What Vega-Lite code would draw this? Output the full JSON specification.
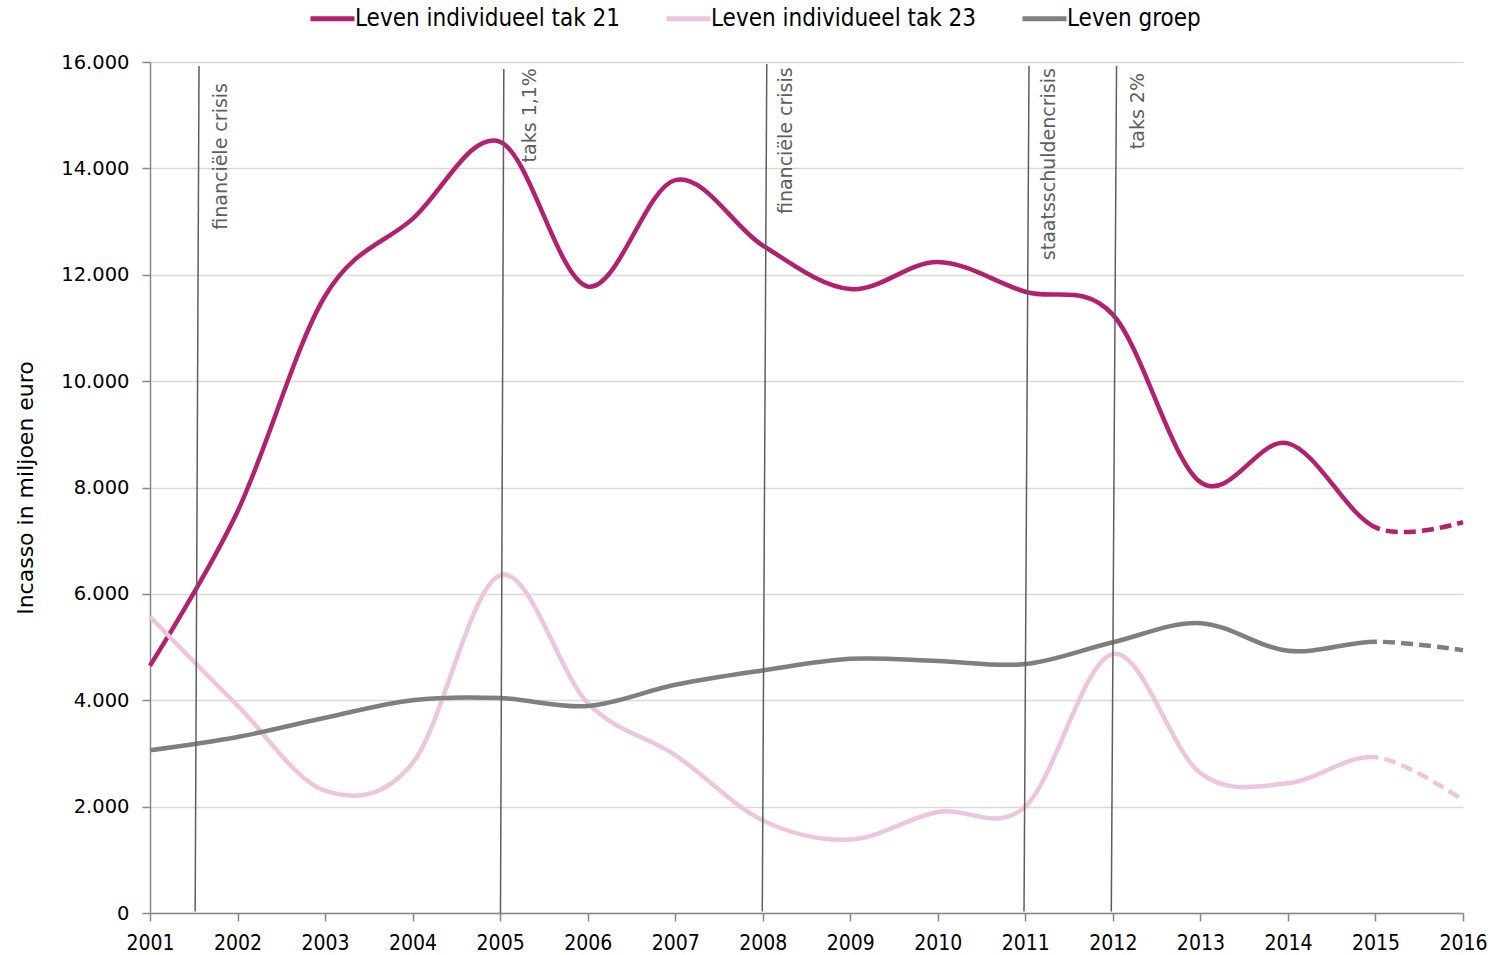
{
  "$schema": "https://vega.github.io/schema/vega-lite/v6.json",
  "autosize": "none",
  "width": 1313,
  "height": 851,
  "padding": {"left": 150, "top": 62, "right": 34, "bottom": 42},
  "background": "white",
  "config": {"view": {"stroke": null}, "font": "DejaVu Sans"},
  "datasets": {
    "series": [
      {"year": 2001, "series": "Leven individueel tak 21", "value": 4650},
      {"year": 2002, "series": "Leven individueel tak 21", "value": 7550},
      {"year": 2003, "series": "Leven individueel tak 21", "value": 11600},
      {"year": 2004, "series": "Leven individueel tak 21", "value": 13050},
      {"year": 2005, "series": "Leven individueel tak 21", "value": 14500},
      {"year": 2006, "series": "Leven individueel tak 21", "value": 11780},
      {"year": 2007, "series": "Leven individueel tak 21", "value": 13780},
      {"year": 2008, "series": "Leven individueel tak 21", "value": 12550},
      {"year": 2009, "series": "Leven individueel tak 21", "value": 11730},
      {"year": 2010, "series": "Leven individueel tak 21", "value": 12240},
      {"year": 2011, "series": "Leven individueel tak 21", "value": 11680},
      {"year": 2012, "series": "Leven individueel tak 21", "value": 11250},
      {"year": 2013, "series": "Leven individueel tak 21", "value": 8100},
      {"year": 2014, "series": "Leven individueel tak 21", "value": 8830},
      {"year": 2015, "series": "Leven individueel tak 21", "value": 7250},
      {"year": 2016, "series": "Leven individueel tak 21", "value": 7350},
      {"year": 2001, "series": "Leven individueel tak 23", "value": 5570},
      {"year": 2002, "series": "Leven individueel tak 23", "value": 3900},
      {"year": 2003, "series": "Leven individueel tak 23", "value": 2300},
      {"year": 2004, "series": "Leven individueel tak 23", "value": 2820},
      {"year": 2005, "series": "Leven individueel tak 23", "value": 6350},
      {"year": 2006, "series": "Leven individueel tak 23", "value": 3950},
      {"year": 2007, "series": "Leven individueel tak 23", "value": 2970},
      {"year": 2008, "series": "Leven individueel tak 23", "value": 1740},
      {"year": 2009, "series": "Leven individueel tak 23", "value": 1380},
      {"year": 2010, "series": "Leven individueel tak 23", "value": 1900},
      {"year": 2011, "series": "Leven individueel tak 23", "value": 2000},
      {"year": 2012, "series": "Leven individueel tak 23", "value": 4870},
      {"year": 2013, "series": "Leven individueel tak 23", "value": 2630},
      {"year": 2014, "series": "Leven individueel tak 23", "value": 2440},
      {"year": 2015, "series": "Leven individueel tak 23", "value": 2930},
      {"year": 2016, "series": "Leven individueel tak 23", "value": 2120},
      {"year": 2001, "series": "Leven groep", "value": 3060},
      {"year": 2002, "series": "Leven groep", "value": 3310},
      {"year": 2003, "series": "Leven groep", "value": 3670},
      {"year": 2004, "series": "Leven groep", "value": 4000},
      {"year": 2005, "series": "Leven groep", "value": 4040},
      {"year": 2006, "series": "Leven groep", "value": 3890},
      {"year": 2007, "series": "Leven groep", "value": 4290},
      {"year": 2008, "series": "Leven groep", "value": 4560},
      {"year": 2009, "series": "Leven groep", "value": 4780},
      {"year": 2010, "series": "Leven groep", "value": 4740},
      {"year": 2011, "series": "Leven groep", "value": 4680},
      {"year": 2012, "series": "Leven groep", "value": 5090},
      {"year": 2013, "series": "Leven groep", "value": 5450},
      {"year": 2014, "series": "Leven groep", "value": 4930},
      {"year": 2015, "series": "Leven groep", "value": 5100},
      {"year": 2016, "series": "Leven groep", "value": 4940}
    ],
    "events": [
      {"xb": 2001.516, "xt": 2001.56, "yb": 30, "yt": 15924},
      {"xb": 2005.004, "xt": 2005.042, "yb": 0, "yt": 15868},
      {"xb": 2007.995, "xt": 2008.046, "yb": 30, "yt": 15962},
      {"xb": 2010.985, "xt": 2011.042, "yb": 30, "yt": 15924},
      {"xb": 2011.982, "xt": 2012.042, "yb": 30, "yt": 15924}
    ],
    "labels": [
      {"xpos": 2001.81, "ypos": 15605, "label": "financiële crisis"},
      {"xpos": 2005.34, "ypos": 15886, "label": "taks 1,1%"},
      {"xpos": 2008.27, "ypos": 15900, "label": "financiële crisis"},
      {"xpos": 2011.27, "ypos": 15886, "label": "staatsschuldencrisis"},
      {"xpos": 2012.29, "ypos": 15793, "label": "taks 2%"}
    ]
  },
  "layer": [
    {
      "data": {"name": "series"},
      "mark": {"type": "line", "interpolate": "cardinal", "strokeWidth": 4.5},
      "encoding": {
        "x": {
          "field": "year", "type": "quantitative",
          "scale": {"domain": [2001, 2016], "nice": false, "zero": false},
          "axis": {
            "title": null, "values": [2001,2002,2003,2004,2005,2006,2007,2008,2009,2010,2011,2012,2013,2014,2015,2016],
            "format": "d", "grid": false, "labelFlush": false,
            "labelFont": "DejaVu Sans Condensed", "labelFontSize": 21, "labelColor": "#000000",
            "labelBaseline": "alphabetic", "labelPadding": 28,
            "domainColor": "#878787", "domainWidth": 1.5, "tickColor": "#878787", "tickWidth": 1.5, "tickSize": 8
          }
        },
        "y": {
          "field": "value", "type": "quantitative",
          "scale": {"domain": [0, 16000], "nice": false},
          "axis": {
            "title": "Incasso in miljoen euro", "values": [0,2000,4000,6000,8000,10000,12000,14000,16000],
            "labelExpr": "replace(format(datum.value, ','), ',', '.')",
            "labelFont": "DejaVu Sans", "labelFontSize": 19.5, "labelColor": "#000000", "labelPadding": 13,
            "grid": true, "gridColor": "#D9D9D9", "gridWidth": 1.5,
            "domainColor": "#878787", "domainWidth": 1.5, "tickColor": "#878787", "tickWidth": 1.5, "tickSize": 8,
            "titleFont": "DejaVu Sans", "titleFontSize": 22, "titleFontWeight": "normal", "titleColor": "#000000",
            "titleAngle": 270, "titleX": -125, "titleY": 425.5, "titleAlign": "center", "titleBaseline": "middle"
          }
        },
        "color": {
          "field": "series", "type": "nominal",
          "scale": {"domain": ["Leven individueel tak 21", "Leven individueel tak 23", "Leven groep"], "range": ["#B3206E", "#ECC6DD", "#7F7F7F"]},
          "legend": {
            "title": null, "orient": "none", "legendX": 158, "legendY": -68, "direction": "horizontal",
            "symbolType": "stroke", "symbolSize": 1936, "symbolStrokeWidth": 5, "symbolDash": [1, 0],
            "labelFont": "DejaVu Sans Condensed", "labelFontSize": 24, "labelColor": "#000000",
            "labelOffset": -2, "columnPadding": 35, "labelLimit": 600, "padding": 0
          }
        },
        "strokeDash": {
          "field": "series", "type": "nominal",
          "scale": {
            "domain": ["Leven individueel tak 21", "Leven individueel tak 23", "Leven groep"],
            "range": [
              [1875, 6, 12, 6, 12, 6, 12, 6, 12, 6, 12, 6, 12, 6, 12, 6, 12, 6, 12, 600],
              [1718, 6, 12, 6, 12, 6, 12, 6, 12, 6, 12, 6, 12, 6, 12, 6, 12, 6, 12, 600],
              [1248, 6, 12, 6, 12, 6, 12, 6, 12, 6, 12, 6, 12, 6, 12, 6, 12, 6, 12, 600]
            ]
          },
          "legend": null
        }
      }
    },
    {
      "data": {"name": "events"},
      "mark": {"type": "rule", "color": "#5E5E5E", "strokeWidth": 1.5},
      "encoding": {
        "x": {"field": "xb", "type": "quantitative"},
        "x2": {"field": "xt"},
        "y": {"field": "yb", "type": "quantitative"},
        "y2": {"field": "yt"}
      }
    },
    {
      "data": {"name": "labels"},
      "mark": {"type": "text", "angle": 270, "align": "right", "baseline": "middle", "font": "DejaVu Sans", "fontSize": 19, "color": "#5E5E5E"},
      "encoding": {
        "x": {"field": "xpos", "type": "quantitative"},
        "y": {"field": "ypos", "type": "quantitative"},
        "text": {"field": "label"}
      }
    }
  ]
}
